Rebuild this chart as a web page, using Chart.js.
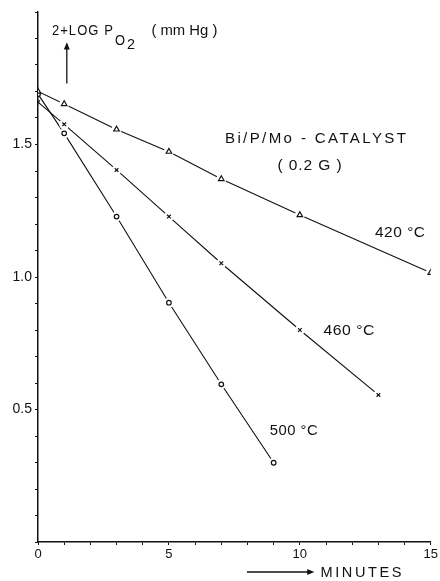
<!DOCTYPE html>
<html>
<head>
<meta charset="utf-8">
<script src="https://cdn.jsdelivr.net/npm/chart.js@4/dist/chart.umd.min.js"></script>
<style>
  html, body { margin: 0; padding: 0; background: #fff; }
  #wrap { width: 440px; height: 581px; }
</style>
</head>
<body>
<div id="wrap"><canvas id="c" width="440" height="581"></canvas></div>
<script>
// Oxygen uptake over time, Bi/P/Mo catalyst (0.2 g): 2 + log pO2 (mmHg) vs. minutes
const minutes420 = [0, 1, 3, 5, 7, 10, 15];
const logP420    = [1.70, 1.653, 1.557, 1.473, 1.370, 1.234, 1.016];
const minutes460 = [0, 1, 3, 5, 7, 10, 13];
const logP460    = [1.66, 1.576, 1.404, 1.228, 1.052, 0.800, 0.555];
const minutes500 = [0, 1, 3, 5, 7, 9];
const logP500    = [1.69, 1.542, 1.228, 0.903, 0.595, 0.299];

const xTickLabels = [0, 5, 10, 15];
const yTickLabels = [0.5, 1.0, 1.5];
const seriesLabels = ['420 °C', '460 °C', '500 °C'];

const FONT = '"Liberation Sans", "DejaVu Sans", sans-serif';
const INK = '#111';

function pts(xs, ys) { return xs.map((x, i) => ({ x: x, y: ys[i] })); }

const series = [
  { data: pts(minutes420, logP420), style: 'triangle', radius: 3.2 },
  { data: pts(minutes460, logP460), style: 'crossRot', radius: 2.6 },
  { data: pts(minutes500, logP500), style: 'circle',   radius: 2.3 }
];

const datasets = [];
series.forEach((s, i) => {
  // connecting line
  datasets.push({
    label: seriesLabels[i], data: s.data, showLine: true,
    borderColor: INK, borderWidth: 1.1, pointRadius: 0, order: 3
  });
  // white gap around each plotted point (skipped at t = 0, where curves meet the axis)
  datasets.push({
    label: seriesLabels[i] + ' gap', data: s.data.slice(1), showLine: false,
    pointRadius: 5, pointBackgroundColor: '#fff', pointBorderWidth: 0, order: 2
  });
  // point symbol
  datasets.push({
    label: seriesLabels[i] + ' points', data: s.data, showLine: false,
    pointStyle: s.style, pointRadius: s.radius,
    pointBackgroundColor: '#fff', pointBorderColor: INK, pointBorderWidth: 1.2, order: 1
  });
});

// letter-spaced text, squeezed or stretched horizontally to a given visible width
function fitText(ctx, str, x, yMid, width, size, spacing) {
  ctx.save();
  ctx.font = size + 'px ' + FONT;
  ctx.letterSpacing = (spacing || 0) + 'px';
  const w = ctx.measureText(str).width - (spacing || 0);
  const sx = width / w;
  ctx.textAlign = 'left';
  ctx.textBaseline = 'alphabetic';
  ctx.translate(x, yMid + size * 0.36);
  ctx.scale(sx, 1);
  ctx.fillText(str, 0, 0);
  ctx.restore();
}

function arrowHead(ctx, x, y, dir) {
  ctx.beginPath();
  if (dir === 'up') {
    ctx.moveTo(x, y); ctx.lineTo(x - 3, y + 7); ctx.lineTo(x + 3, y + 7);
  } else {
    ctx.moveTo(x, y); ctx.lineTo(x - 7, y - 3); ctx.lineTo(x - 7, y + 3);
  }
  ctx.closePath();
  ctx.fill();
}

const annotations = {
  id: 'annotations',
  afterDraw(chart) {
    const ctx = chart.ctx;
    const xs = chart.scales.x, ys = chart.scales.y;
    const X = v => xs.getPixelForValue(v), Y = v => ys.getPixelForValue(v);
    ctx.save();
    ctx.fillStyle = INK;
    ctx.strokeStyle = INK;

    // y-axis title: 2 + LOG P_O2 (mm Hg)
    const tx = X(0.53), ty = Y(1.932);
    fitText(ctx, '2+LOG P', tx, ty, 61, 15, 1.2);
    fitText(ctx, 'O', tx + 63, ty + 10, 10, 15, 0);
    fitText(ctx, '2', tx + 75, ty + 14, 8, 15, 0);
    fitText(ctx, '( mm Hg )', X(4.33), ty, 66, 14, 0);

    // upward arrow under the title
    ctx.lineWidth = 1.3;
    ctx.beginPath();
    ctx.moveTo(X(1.1), Y(1.73));
    ctx.lineTo(X(1.1), Y(1.88));
    ctx.stroke();
    arrowHead(ctx, X(1.1), Y(1.885), 'up');

    // catalyst note
    fitText(ctx, 'Bi/P/Mo - CATALYST', X(7.14), Y(1.525), 181, 14, 2.2);
    fitText(ctx, '( 0.2 G )', X(9.15), Y(1.423), 64, 14, 0.8);

    // curve labels
    fitText(ctx, seriesLabels[0], X(12.87), Y(1.17), 50, 15, 0.5);
    fitText(ctx, seriesLabels[1], X(10.9), Y(0.80), 51, 15, 0.5);
    fitText(ctx, seriesLabels[2], X(8.85), Y(0.423), 48, 15, 0.5);

    // x-axis title with arrow
    const by = chart.chartArea.bottom + 30;
    ctx.lineWidth = 1.3;
    ctx.beginPath();
    ctx.moveTo(X(7.98), by);
    ctx.lineTo(X(10.4), by);
    ctx.stroke();
    arrowHead(ctx, X(10.55), by, 'right');
    fitText(ctx, 'MINUTES', X(10.79), by, 81, 14, 2.5);

    ctx.restore();
  }
};

new Chart(document.getElementById('c'), {
  type: 'scatter',
  data: { datasets: datasets },
  plugins: [annotations],
  options: {
    responsive: false,
    animation: false,
    devicePixelRatio: 1,
    layout: { padding: { top: 12, right: 7, left: 0, bottom: 0 } },
    plugins: { legend: { display: false }, tooltip: { enabled: false } },
    scales: {
      x: {
        type: 'linear', min: 0, max: 15, z: 1,
        afterFit(scale) { scale.height = 39; },
        border: { display: true, color: INK, width: 1.5 },
        grid: { display: true, drawOnChartArea: false, drawTicks: true, tickLength: 3, color: INK, lineWidth: 1 },
        ticks: {
          stepSize: 1, autoSkip: false, maxRotation: 0, padding: 2,
          color: INK, font: { family: FONT, size: 13 },
          callback: v => xTickLabels.includes(Math.round(v)) && Math.abs(v - Math.round(v)) < 1e-6 ? String(Math.round(v)) : ''
        }
      },
      y: {
        type: 'linear', min: 0, max: 2, z: 1,
        afterFit(scale) { scale.width = 38; },
        border: { display: true, color: INK, width: 1.5 },
        grid: { display: true, drawOnChartArea: false, drawTicks: true, tickLength: 3, color: INK, lineWidth: 1 },
        ticks: {
          stepSize: 0.1, autoSkip: false, padding: 3,
          color: INK, font: { family: FONT, size: 14 },
          callback: v => {
            const k = Math.round(v * 10);
            return yTickLabels.some(t => Math.round(t * 10) === k) ? (k / 10).toFixed(1) : '';
          }
        }
      }
    }
  }
});
</script>
</body>
</html>
